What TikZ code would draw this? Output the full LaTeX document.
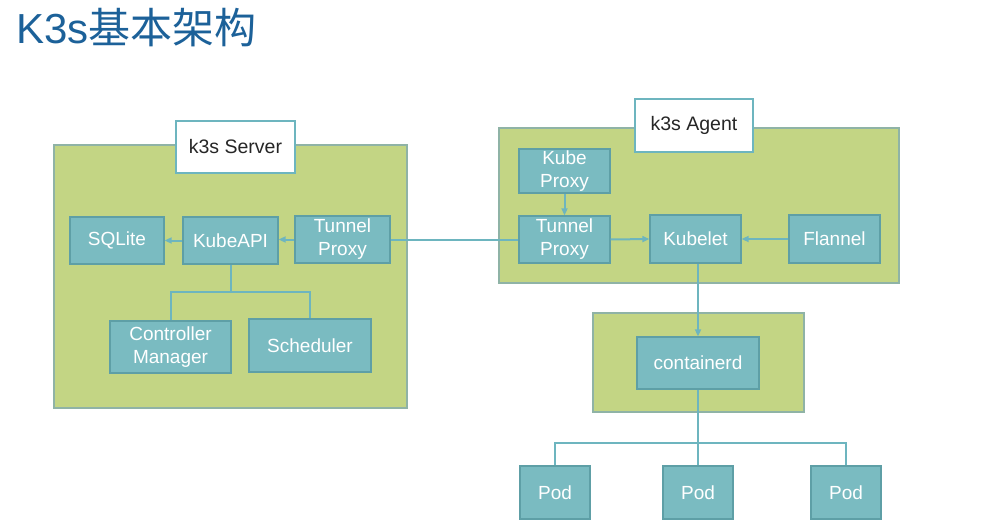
\documentclass[tikz,border=0pt]{standalone}
\usepackage{fontspec}
\setmainfont{Liberation Sans}
\newfontfamily\cjk{Noto Sans CJK SC}
\usetikzlibrary{arrows.meta}
\definecolor{grn}{HTML}{C3D584}
\definecolor{grnb}{HTML}{8FB3A6}
\definecolor{tealf}{HTML}{7ABBC1}
\definecolor{tealb}{HTML}{5E9FA6}
\definecolor{conn}{HTML}{6DB5BF}
\definecolor{ttl}{HTML}{1C6199}
\tikzset{
  grp/.style={fill=grn, draw=grnb, line width=1.3pt},
  tbox/.style={rectangle, fill=tealf, draw=tealb, line width=1.3pt, text=white,
    font=\fontsize{19}{23}\selectfont, align=center, inner sep=0pt},
  lbl/.style={rectangle, fill=white, draw=conn, line width=2pt, text=black!85,
    font=\fontsize{19.5}{23}\selectfont, inner sep=0pt},
  ln/.style={draw=conn, line width=2pt},
  arr/.style={ln, -{Triangle[length=7pt,width=6pt]}}
}
\begin{document}
\begin{tikzpicture}[x=1pt,y=-1pt]
\useasboundingbox (0,0) rectangle (1000,529);
\fill[white] (0,0) rectangle (1000,529);
% title
\node[anchor=base west, inner sep=0pt, text=ttl, font=\fontsize{42}{48}\selectfont] (title) at (16,44) {K3s\cjk 基本架构};
% groups
\draw[grp] (54,145) rectangle (407,408);
\draw[grp] (499,128) rectangle (899,283);
\draw[grp] (593,313) rectangle (804,412);
% labels
\node[lbl, minimum width=119, minimum height=52] (slbl) at (235.5,147) {k3s Server};
\node[lbl, minimum width=118, minimum height=53] (albl) at (694,125.5) {k3s Agent};
% server nodes
\node[tbox, minimum width=94, minimum height=47] (sqlite) at (117,240.5) {SQLite};
\node[tbox, minimum width=95, minimum height=47] (kapi) at (230.5,240.5) {KubeAPI};
\node[tbox, minimum width=95, minimum height=47] (tps) at (342.5,239.5) {Tunnel\\Proxy};
\node[tbox, minimum width=121, minimum height=52] (cm) at (170.5,347) {Controller\\Manager};
\node[tbox, minimum width=122, minimum height=53] (sched) at (310,345.5) {Scheduler};
% agent nodes
\node[tbox, minimum width=91, minimum height=44] (kp) at (564.5,171) {Kube\\Proxy};
\node[tbox, minimum width=91, minimum height=47] (tpa) at (564.5,239.5) {Tunnel\\Proxy};
\node[tbox, minimum width=91, minimum height=48] (kubelet) at (695.5,239) {Kubelet};
\node[tbox, minimum width=91, minimum height=48] (flannel) at (834.5,239) {Flannel};
% containerd
\node[tbox, minimum width=122, minimum height=52] (cont) at (698,363) {containerd};
% pods
\node[tbox, minimum width=70, minimum height=53] (pod1) at (555,492.5) {Pod};
\node[tbox, minimum width=70, minimum height=53] (pod2) at (698,492.5) {Pod};
\node[tbox, minimum width=70, minimum height=53] (pod3) at (846,492.5) {Pod};
% junctions
\coordinate (sj) at (230.5,292);
\coordinate (pj) at (698,443);
% connectors
\draw[arr] (kapi.west) -- (sqlite.east);
\draw[arr] (tps.west) -- (kapi.east |- tps.west);
\draw[ln] (kapi.south) -- (sj);
\draw[ln] (sj) -| (cm.north);
\draw[ln] (sj) -| (sched.north);
\draw[ln] (tps.east) -- (tpa.west);
\draw[arr] (kp.south) -- (tpa.north);
\draw[arr] (tpa.east) -- (kubelet.west);
\draw[arr] (flannel.west) -- (kubelet.east);
\draw[arr] (kubelet.south -| cont.north) -- (cont.north);
\draw[ln] (cont.south) -- (pj);
\draw[ln] (pj) -| (pod1.north);
\draw[ln] (pj) -| (pod3.north);
\draw[ln] (pj) -- (pod2.north);
\end{tikzpicture}
\end{document}
